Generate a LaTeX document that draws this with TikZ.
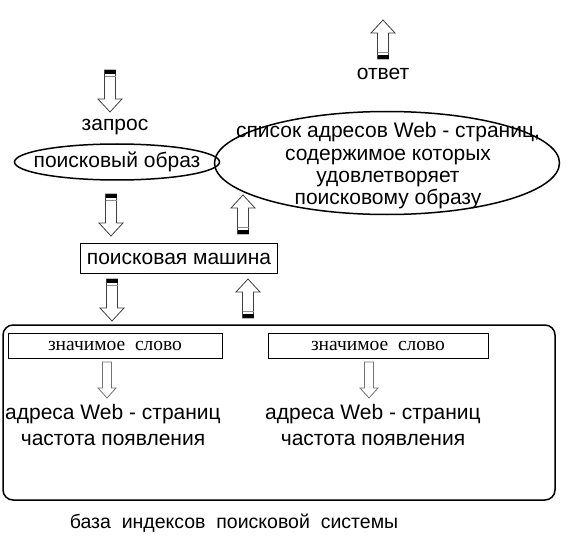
\documentclass[tikz,border=0pt]{standalone}
\usepackage{fontspec}
\setmainfont{Liberation Sans}
\newfontfamily\seriffont{Liberation Serif}
\usetikzlibrary{shapes.geometric}
\tikzset{
  x=1pt, y=-1pt,
  lbl/.style={font=\fontsize{21}{24}\selectfont, inner sep=0pt, align=center},
  word/.style={draw, line width=1pt, font=\seriffont\fontsize{19.5}{22}\selectfont, minimum width=214pt, minimum height=25pt, inner sep=0pt},
  oval/.style={draw, ellipse, line width=1.5pt, inner sep=0pt},
  pics/darr/.style={code={
    \filldraw[draw=black!75, fill=white, line width=0.8pt]
      (-5.5,0) -- (5.5,0) -- (5.5,29) -- (12,29) -- (0,42) -- (-12,29) -- (-5.5,29) -- cycle;
    \fill[black] (-5.5,0) rectangle (5.5,4);
    \draw[black!45, line width=1pt] (-5.5,6.5) -- (5.5,6.5);
  }},
  pics/uarr/.style={code={
    \filldraw[draw=black!75, fill=white, line width=0.8pt]
      (-5.5,0) -- (5.5,0) -- (5.5,-26) -- (12,-26) -- (0,-39) -- (-12,-26) -- (-5.5,-26) -- cycle;
    \fill[black] (-5.5,0) rectangle (5.5,-4);
    \draw[black!45, line width=1pt] (-5.5,-6.5) -- (5.5,-6.5);
  }},
  pics/sarr/.style={code={
    \filldraw[draw=black!55, fill=white, line width=0.8pt]
      (-4.5,0) -- (4.5,0) -- (4.5,26) -- (9,26) -- (0,36) -- (-9,26) -- (-4.5,26) -- cycle;
  }}
}
\begin{document}
\begin{tikzpicture}
\useasboundingbox (0,0) rectangle (566,543);
% nodes
\node[lbl] (zapros) at (115,127) {запрос};
\node[oval, minimum width=205pt, minimum height=36pt] (obraz) at (117,162) {};
\node[lbl] at (obraz.center) {поисковый образ};
\node[draw, line width=1pt, minimum width=197pt, minimum height=30pt, inner sep=0pt] (mash) at (179,258.5) {};
\node[lbl] at (mash.center) {поисковая машина};
\node[oval, minimum width=345pt, minimum height=103pt] (spisok) at (387,163) {};
\node[lbl, font=\fontsize{21}{22.3}\selectfont] at (388,166) {список адресов Web - страниц,\\содержимое которых\\удовлетворяет\\поисковому образу};
\node[lbl] (otvet) at (383,74) {ответ};
\draw[line width=1.5pt, rounded corners=10pt] (3,325) rectangle (555,500);
\node[word] (w1) at (115,346) {значимое~~слово};
\node[word, minimum width=220pt] (w2) at (378,346) {значимое~~слово};
\node[lbl] (a1) at (113,414) {адреса Web - страниц};
\node[lbl] (f1) at (113,440) {частота появления};
\node[lbl] (a2) at (373,414) {адреса Web - страниц};
\node[lbl] (f2) at (373,440) {частота появления};
\node[lbl, font=\fontsize{19.5}{22}\selectfont] (baza) at (234,523) {база~~индексов~~поисковой~~системы};
% block arrows
\pic at (110,70) {darr};
\pic at (111,194) {darr};
\pic at (112,279) {darr};
\pic at (243,234) {uarr};
\pic at (248,318) {uarr};
\pic at (383,59) {uarr};
\pic at (107,362) {sarr};
\pic at (369,362) {sarr};
\end{tikzpicture}
\end{document}
